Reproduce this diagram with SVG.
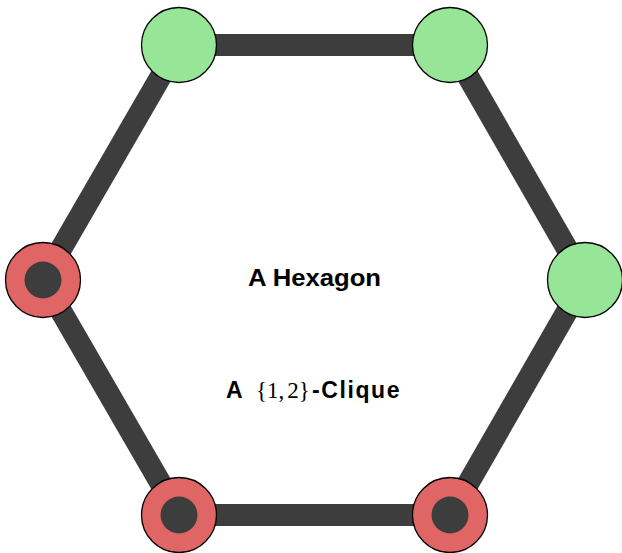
<svg xmlns="http://www.w3.org/2000/svg" width="622" height="553" viewBox="0 0 622 553">
<style>
.edge{stroke:#3d3d3d;stroke-width:22;fill:none}
.g{fill:#97e597;stroke:#000;stroke-width:1.3}
.r{fill:#e06666;stroke:#000;stroke-width:1.3}
.in{fill:#3d3d3d}
.lbl{font-family:"Liberation Sans",Arial,sans-serif;font-weight:bold;font-size:23px;fill:#000}
.math{font-family:"Liberation Serif","Times New Roman",serif;font-weight:normal;font-size:23px}
</style>
<rect width="622" height="553" fill="#fff"/>
<g id="connectors">
<line class="edge" x1="179" y1="45" x2="450" y2="45"/>
<line class="edge" x1="450" y1="45" x2="585" y2="280"/>
<line class="edge" x1="585" y1="280" x2="450" y2="515"/>
<line class="edge" x1="450" y1="515" x2="179" y2="515"/>
<line class="edge" x1="179" y1="515" x2="43" y2="280"/>
<line class="edge" x1="43" y1="280" x2="179" y2="45"/>
</g>
<g id="n1"><circle class="g" cx="179" cy="45" r="37.5"/></g>
<g id="n2"><circle class="g" cx="450" cy="45" r="37.5"/></g>
<g id="n3"><circle class="g" cx="585" cy="280" r="37.5"/></g>
<g id="n4"><circle class="r" cx="450" cy="515" r="37.5"/><circle class="in" cx="450" cy="515" r="18.5"/></g>
<g id="n5"><circle class="r" cx="179" cy="515" r="37.5"/><circle class="in" cx="179" cy="515" r="18.5"/></g>
<g id="n6"><circle class="r" cx="43" cy="280" r="37.5"/><circle class="in" cx="43" cy="280" r="18.5"/></g>
<g id="labels">
<text class="lbl" x="248" y="286" textLength="133" lengthAdjust="spacingAndGlyphs">A Hexagon</text>
<text class="lbl" y="398"><tspan x="226">A</tspan><tspan class="math" x="256">{1,</tspan><tspan class="math" dx="3">2}</tspan><tspan x="312" letter-spacing="1.6">-Clique</tspan></text>
</g>
</svg>
